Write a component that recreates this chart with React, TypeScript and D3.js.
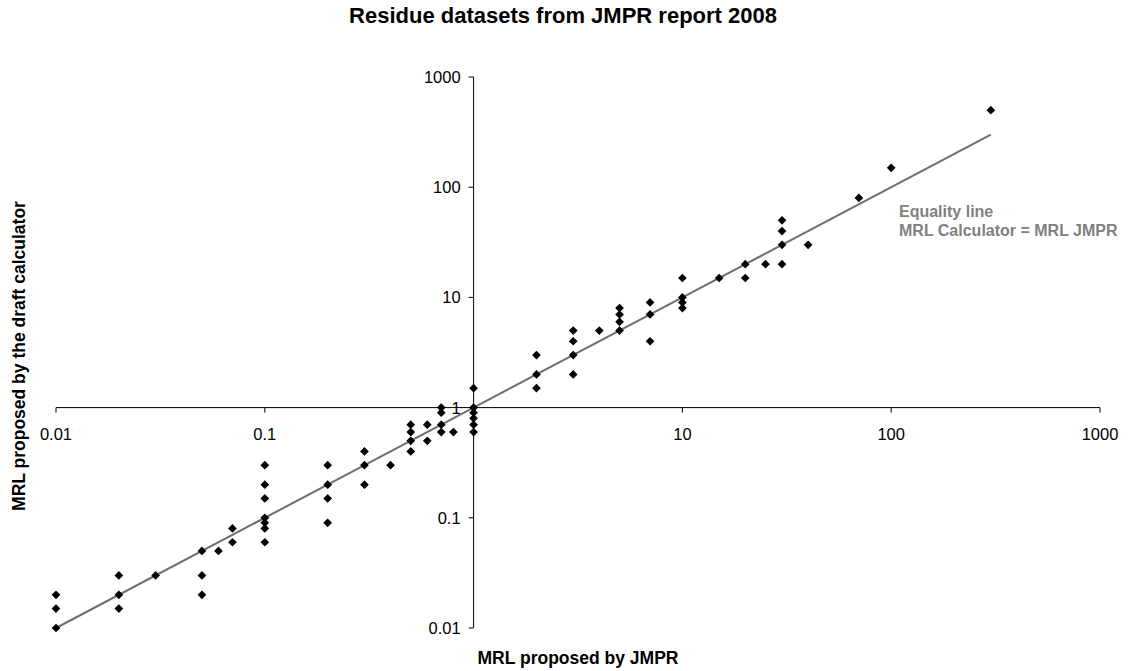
import { useEffect, useRef } from 'react'
import * as d3 from 'd3'

// MRL proposed by JMPR (x) against MRL from the draft calculator (y)
const jmprValues = [
  0.01, 0.01, 0.01,
  0.02, 0.02, 0.02,
  0.03,
  0.05, 0.05, 0.05,
  0.06,
  0.07, 0.07,
  0.1, 0.1, 0.1, 0.1, 0.1, 0.1, 0.1,
  0.2, 0.2, 0.2, 0.2,
  0.3, 0.3, 0.3,
  0.4,
  0.5, 0.5, 0.5, 0.5,
  0.6, 0.6,
  0.7, 0.7, 0.7, 0.7,
  0.8,
  1, 1, 1, 1, 1, 1,
  2, 2, 2,
  3, 3, 3, 3,
  4,
  5, 5, 5, 5,
  7, 7, 7,
  10, 10, 10, 10,
  15,
  20, 20,
  25,
  30, 30, 30, 30,
  40,
  70,
  100,
  300,
]

const calculatorValues = [
  0.02, 0.015, 0.01,
  0.03, 0.02, 0.015,
  0.03,
  0.05, 0.03, 0.02,
  0.05,
  0.08, 0.06,
  0.3, 0.2, 0.15, 0.1, 0.09, 0.08, 0.06,
  0.3, 0.2, 0.15, 0.09,
  0.4, 0.3, 0.2,
  0.3,
  0.7, 0.6, 0.5, 0.4,
  0.7, 0.5,
  1, 0.9, 0.7, 0.6,
  0.6,
  1.5, 1, 0.9, 0.8, 0.7, 0.6,
  3, 2, 1.5,
  5, 4, 3, 2,
  5,
  8, 7, 6, 5,
  9, 7, 4,
  15, 10, 9, 8,
  15,
  20, 15,
  20,
  50, 40, 30, 20,
  30,
  80,
  150,
  500,
]

const tickValues = [0.01, 0.1, 1, 10, 100, 1000]
const tickLabels = ['0.01', '0.1', '1', '10', '100', '1000']
const equalityLine = [0.01, 300]

const width = 1128
const height = 671

export default function App() {
  const svgRef = useRef<SVGSVGElement>(null)

  useEffect(() => {
    if (!svgRef.current) return
    const svg = d3.select(svgRef.current)
    svg.selectAll('*').remove()

    const font = '"Liberation Sans", Arial, sans-serif'

    const x = d3.scaleLog().domain([0.01, 1000]).range([56, 1100])
    const y = d3.scaleLog().domain([0.01, 1000]).range([628, 77])

    const xAxisY = y(1)
    const yAxisX = x(1)

    // Title
    svg.append('text')
      .attr('x', 563)
      .attr('y', 23)
      .attr('text-anchor', 'middle')
      .attr('font-family', font)
      .attr('font-size', 22)
      .attr('font-weight', 'bold')
      .text('Residue datasets from JMPR report 2008')

    // X axis crossing at 1
    const xAxis = svg.append('g').attr('transform', `translate(0,${xAxisY})`)
    xAxis.append('line')
      .attr('x1', x(0.01)).attr('x2', x(1000))
      .attr('stroke', '#000').attr('stroke-width', 1)
    xAxis.selectAll('line.tick')
      .data(tickValues)
      .join('line')
      .attr('class', 'tick')
      .attr('x1', d => x(d)).attr('x2', d => x(d))
      .attr('y1', 0).attr('y2', 5)
      .attr('stroke', '#000')
    // the label at 1 is hidden behind the crossing point, as in the original
    xAxis.selectAll('text')
      .data(tickValues.filter(d => d !== 1))
      .join('text')
      .attr('x', d => x(d))
      .attr('y', 32)
      .attr('text-anchor', 'middle')
      .attr('font-family', font)
      .attr('font-size', 16.5)
      .text(d => tickLabels[tickValues.indexOf(d)])

    // Y axis crossing at 1
    const yAxis = svg.append('g').attr('transform', `translate(${yAxisX},0)`)
    yAxis.append('line')
      .attr('y1', y(0.01)).attr('y2', y(1000))
      .attr('stroke', '#000').attr('stroke-width', 1)
    yAxis.selectAll('line.tick')
      .data(tickValues)
      .join('line')
      .attr('class', 'tick')
      .attr('y1', d => y(d)).attr('y2', d => y(d))
      .attr('x1', -5).attr('x2', 0)
      .attr('stroke', '#000')
    yAxis.selectAll('text')
      .data(tickValues)
      .join('text')
      .attr('x', -13)
      .attr('y', d => y(d))
      .attr('dy', '0.36em')
      .attr('text-anchor', 'end')
      .attr('font-family', font)
      .attr('font-size', 16.5)
      .text((d, i) => tickLabels[i])

    // Axis titles
    svg.append('text')
      .attr('x', 578)
      .attr('y', 664)
      .attr('text-anchor', 'middle')
      .attr('font-family', font)
      .attr('font-size', 17.5)
      .attr('font-weight', 'bold')
      .text('MRL proposed by JMPR')

    svg.append('text')
      .attr('transform', 'translate(25,356) rotate(-90)')
      .attr('text-anchor', 'middle')
      .attr('font-family', font)
      .attr('font-size', 17.5)
      .attr('font-weight', 'bold')
      .text('MRL proposed by the draft calculator')

    // Equality line
    svg.append('line')
      .attr('x1', x(equalityLine[0])).attr('y1', y(equalityLine[0]))
      .attr('x2', x(equalityLine[1])).attr('y2', y(equalityLine[1]))
      .attr('stroke', '#6e6e6e')
      .attr('stroke-width', 2)

    const note = svg.append('text')
      .attr('font-family', font)
      .attr('font-size', 16)
      .attr('font-weight', 'bold')
      .attr('fill', '#808080')
    note.append('tspan').attr('x', 899).attr('y', 217).text('Equality line')
    note.append('tspan').attr('x', 899).attr('y', 236).text('MRL Calculator = MRL JMPR')

    // Diamond markers
    const diamond = d3.symbol().type(d3.symbolSquare).size(38)()
    svg.append('g')
      .selectAll('path')
      .data(jmprValues.map((v, i) => [v, calculatorValues[i]]))
      .join('path')
      .attr('d', diamond)
      .attr('transform', d => `translate(${x(d[0])},${y(d[1])}) rotate(45)`)
      .attr('fill', '#000')
  }, [])

  return (
    <svg
      ref={svgRef}
      width={width}
      height={height}
      style={{ position: 'absolute', left: 0, top: 0, background: '#fff' }}
    />
  )
}
